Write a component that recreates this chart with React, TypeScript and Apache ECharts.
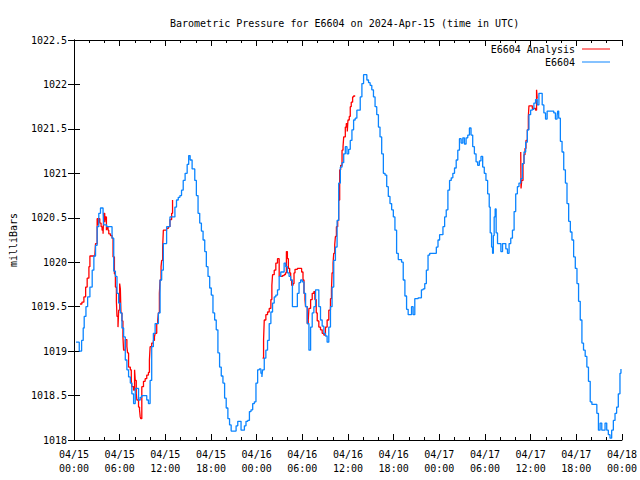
import React, { useEffect, useRef } from "react";
import * as echarts from "echarts";

const TITLE = "Barometric Pressure for E6604 on 2024-Apr-15 (time in UTC)";
const Y_NAME = "milliBars";
const SERIES_ANALYSIS = "E6604 Analysis";
const SERIES_OBS = "E6604";
const xTickLabels = [
  "04/15\n00:00", "04/15\n06:00", "04/15\n12:00", "04/15\n18:00",
  "04/16\n00:00", "04/16\n06:00", "04/16\n12:00", "04/16\n18:00",
  "04/17\n00:00", "04/17\n06:00", "04/17\n12:00", "04/17\n18:00",
  "04/18\n00:00",
];

// hours since 04/15 00:00 UTC
const obsHours = [
  0.26, 0.69, 1.0, 1.21, 1.34, 1.57, 1.79, 2.09, 2.39, 2.61, 2.83, 3.04, 3.26, 3.48, 3.69, 3.82, 3.91, 4.3, 4.79, 5.0,
  5.22, 5.44, 5.65, 5.87, 6.09, 6.3, 6.52, 6.74, 6.95, 7.17, 7.4, 7.6, 7.83, 8.05, 8.26, 8.48, 8.7, 8.91, 9.35, 9.56,
  9.78, 10.0, 10.21, 10.43, 10.66, 10.87, 11.09, 11.31, 11.52, 11.74, 11.96, 12.17, 12.61, 13.04, 13.26, 13.47, 13.7, 13.92, 14.13, 14.35,
  14.6, 14.87, 15.07, 15.26, 15.52, 15.87, 16.08, 16.3, 16.52, 16.74, 16.96, 17.18, 17.39, 17.61, 17.83, 18.04, 18.26, 18.48, 18.69, 18.91,
  19.13, 19.35, 19.57, 19.79, 20.0, 20.22, 20.44, 20.65, 21.09, 21.3, 21.52, 21.74, 21.95, 22.17, 22.39, 22.6, 22.83, 23.05, 23.26, 23.48,
  23.7, 23.91, 24.13, 24.35, 24.56, 24.69, 24.78, 25.0, 25.21, 25.43, 25.65, 25.87, 26.09, 26.31, 26.52, 26.74, 26.96, 27.17, 27.39, 27.61,
  27.82, 28.04, 28.26, 28.47, 28.7, 28.91, 29.13, 29.35, 29.57, 29.78, 30.0, 30.22, 30.43, 30.65, 30.87, 31.09, 31.3, 31.52, 31.74, 31.96,
  32.17, 32.39, 32.61, 32.83, 33.04, 33.26, 33.48, 33.7, 33.91, 34.13, 34.35, 34.57, 34.78, 35.0, 35.22, 35.44, 35.65, 35.87, 36.09, 36.3,
  36.52, 36.74, 36.95, 37.17, 37.39, 37.61, 37.83, 38.05, 38.26, 38.48, 38.7, 38.91, 39.13, 39.35, 39.56, 39.78, 40.0, 40.21, 40.43, 40.65,
  40.87, 41.09, 41.3, 41.52, 41.74, 41.96, 42.17, 42.39, 42.61, 43.04, 43.26, 43.48, 43.7, 43.91, 44.13, 44.35, 44.56, 44.78, 45.22, 45.65,
  45.87, 46.09, 46.3, 46.52, 46.74, 47.39, 47.61, 47.83, 48.04, 48.26, 48.48, 48.7, 48.91, 49.13, 49.35, 49.57, 49.78, 50.0, 50.22, 50.43,
  50.65, 50.87, 51.09, 51.3, 51.52, 51.74, 51.96, 52.17, 52.39, 52.61, 52.83, 53.04, 53.26, 53.48, 53.7, 53.91, 54.13, 54.35, 54.56, 54.69,
  54.87, 55.0, 55.1, 55.21, 55.34, 55.47, 55.65, 55.87, 56.09, 56.31, 56.52, 56.74, 56.96, 57.17, 57.39, 57.61, 57.83, 58.04, 58.26, 58.47,
  58.7, 58.91, 59.13, 59.35, 59.57, 59.78, 60.0, 60.22, 60.43, 60.65, 60.87, 61.09, 61.3, 61.52, 61.74, 61.96, 62.17, 62.83, 63.04, 63.26,
  63.48, 63.56, 63.69, 63.91, 64.13, 64.35, 64.57, 64.78, 65.0, 65.22, 65.43, 65.65, 65.87, 66.09, 66.3, 66.52, 66.74, 66.95, 67.17, 67.39,
  67.6, 67.83, 68.05, 68.48, 68.7, 68.91, 69.13, 69.35, 69.56, 69.78, 70.0, 70.21, 70.43, 70.65, 70.87, 71.09, 71.3, 71.52, 71.74, 71.87,
];
const obsValues = [
  1019.1, 1019.0, 1019.12, 1019.26, 1019.39, 1019.5, 1019.61, 1019.72, 1019.91, 1020.07, 1020.19, 1020.4, 1020.55, 1020.61, 1020.61, 1020.55, 1020.42, 1020.4, 1020.4, 1020.27,
  1019.9, 1019.84, 1019.65, 1019.54, 1019.43, 1019.26, 1019.16, 1018.9, 1018.79, 1018.71, 1018.64, 1018.52, 1018.41, 1018.58, 1018.58, 1018.45, 1018.48, 1018.5, 1018.5, 1018.45,
  1018.41, 1018.67, 1019.05, 1019.2, 1019.31, 1019.31, 1019.43, 1019.8, 1019.91, 1020.21, 1020.21, 1020.4, 1020.51, 1020.51, 1020.62, 1020.7, 1020.73, 1020.75, 1020.81, 1020.92,
  1021.0, 1021.1, 1021.2, 1021.15, 1021.05, 1020.92, 1020.75, 1020.55, 1020.44, 1020.35, 1020.25, 1020.12, 1019.95, 1019.84, 1019.71, 1019.63, 1019.43, 1019.35, 1019.24, 1018.98,
  1018.82, 1018.72, 1018.64, 1018.47, 1018.36, 1018.24, 1018.17, 1018.1, 1018.1, 1018.16, 1018.21, 1018.21, 1018.11, 1018.11, 1018.16, 1018.21, 1018.22, 1018.32, 1018.34, 1018.41,
  1018.43, 1018.64, 1018.79, 1018.8, 1018.75, 1018.71, 1018.79, 1018.92, 1019.01, 1019.12, 1019.31, 1019.44, 1019.54, 1019.61, 1019.63, 1019.69, 1019.84, 1019.89, 1019.89, 1019.99,
  1019.95, 1019.88, 1019.84, 1019.8, 1019.5, 1019.5, 1019.5, 1019.65, 1019.77, 1019.8, 1019.78, 1019.65, 1019.5, 1019.31, 1019.01, 1019.27, 1019.43, 1019.5, 1019.69, 1019.69,
  1019.5, 1019.35, 1019.28, 1019.2, 1019.17, 1019.1, 1019.27, 1019.5, 1019.72, 1020.02, 1020.17, 1020.47, 1020.89, 1021.07, 1021.12, 1021.22, 1021.3, 1021.22, 1021.27, 1021.37,
  1021.49, 1021.6, 1021.62, 1021.71, 1021.71, 1021.86, 1022.01, 1022.11, 1022.11, 1022.05, 1022.02, 1021.99, 1021.94, 1021.86, 1021.75, 1021.66, 1021.52, 1021.41, 1021.22, 1021.0,
  1020.98, 1020.85, 1020.74, 1020.66, 1020.59, 1020.51, 1020.36, 1020.1, 1020.03, 1020.0, 1019.8, 1019.62, 1019.47, 1019.41, 1019.41, 1019.5, 1019.41, 1019.59, 1019.6, 1019.69,
  1019.7, 1019.76, 1019.91, 1020.08, 1020.1, 1020.1, 1020.17, 1020.25, 1020.31, 1020.31, 1020.4, 1020.51, 1020.59, 1020.81, 1020.92, 1020.95, 1021.0, 1021.06, 1021.15, 1021.26,
  1021.39, 1021.34, 1021.4, 1021.33, 1021.4, 1021.43, 1021.51, 1021.43, 1021.3, 1021.22, 1021.13, 1021.09, 1021.14, 1021.19, 1021.07, 1021.0, 1020.92, 1020.77, 1020.62, 1020.33,
  1020.17, 1020.1, 1020.3, 1020.51, 1020.6, 1020.33, 1020.21, 1020.21, 1020.12, 1020.21, 1020.21, 1020.15, 1020.1, 1020.21, 1020.27, 1020.36, 1020.57, 1020.77, 1020.85, 1020.89,
  1020.94, 1021.11, 1021.24, 1021.35, 1021.49, 1021.66, 1021.71, 1021.72, 1021.79, 1021.83, 1021.77, 1021.9, 1021.9, 1021.77, 1021.68, 1021.61, 1021.7, 1021.7, 1021.68, 1021.61,
  1021.65, 1021.7, 1021.62, 1021.36, 1021.24, 1021.04, 1020.89, 1020.66, 1020.46, 1020.34, 1020.25, 1020.06, 1019.93, 1019.76, 1019.56, 1019.35, 1019.09, 1019.01, 1018.94, 1018.82,
  1018.66, 1018.43, 1018.4, 1018.4, 1018.3, 1018.11, 1018.19, 1018.11, 1018.11, 1018.19, 1018.11, 1018.06, 1018.02, 1018.11, 1018.22, 1018.3, 1018.37, 1018.52, 1018.75, 1018.8,
];

// analysis: three separate stretches
const analysisHours1 = [
  0.78, 1.04, 1.3, 1.53, 1.73, 1.96, 2.09, 2.61, 2.74, 2.83, 3.04, 3.17, 3.26, 3.39, 3.56, 3.69, 3.82, 3.91, 4.04, 4.13,
  4.26, 4.35, 4.47, 4.57, 4.79, 5.0, 5.13, 5.31, 5.44, 5.57, 5.65, 5.78, 5.87, 6.0, 6.09, 6.17, 6.3, 6.43, 6.52, 6.74,
  6.95, 7.04, 7.17, 7.4, 7.53, 7.6, 7.83, 7.96, 8.05, 8.18, 8.26, 8.48, 8.61, 8.7, 8.78, 8.91, 9.13, 9.35, 9.56, 9.78,
  9.91, 10.0, 10.21, 10.43, 10.57, 10.66, 10.87, 11.0, 11.09, 11.22, 11.31, 11.44, 11.52, 11.65, 11.74, 11.96, 12.17, 12.39, 12.61, 12.83,
  12.95,
];
const analysisValues1 = [
  1019.53, 1019.55, 1019.61, 1019.72, 1019.82, 1019.95, 1020.07, 1020.07, 1020.08, 1020.21, 1020.49, 1020.42, 1020.49, 1020.44, 1020.4, 1020.36, 1020.32, 1020.55, 1020.45, 1020.51,
  1020.36, 1020.4, 1020.36, 1020.32, 1020.3, 1020.27, 1020.06, 1019.87, 1019.72, 1019.56, 1019.39, 1019.27, 1019.46, 1019.76, 1019.7, 1019.43, 1019.34, 1019.16, 1019.01, 1019.13,
  1019.05, 1018.98, 1018.82, 1018.79, 1018.67, 1018.6, 1018.56, 1018.79, 1018.67, 1018.52, 1018.45, 1018.37, 1018.34, 1018.26, 1018.24, 1018.6, 1018.66, 1018.69, 1018.73, 1018.76,
  1018.9, 1019.05, 1019.09, 1019.12, 1019.16, 1019.2, 1019.31, 1019.35, 1019.43, 1019.65, 1019.8, 1019.95, 1020.02, 1020.17, 1020.36, 1020.36, 1020.38, 1020.4, 1020.48, 1020.55,
  1020.7,
];
const analysisHours2 = [
  24.78, 24.91, 25.0, 25.21, 25.43, 25.65, 25.87, 26.0, 26.09, 26.31, 26.52, 26.74, 26.96, 27.39, 27.61, 27.78, 27.91, 28.04, 28.17, 28.34,
  28.47, 28.6, 28.78, 28.91, 29.04, 29.35, 29.78, 29.91, 30.09, 30.22, 30.35, 30.43, 30.65, 30.78, 30.87, 31.09, 31.3, 31.52, 31.65, 31.83,
  31.96, 32.17, 32.39, 32.61, 32.83, 33.04, 33.26, 33.48, 33.7, 33.83, 33.91, 34.04, 34.13, 34.26, 34.35, 34.48, 34.65, 34.78, 34.91, 35.04,
  35.22, 35.35, 35.44, 35.65, 35.78, 35.91, 36.0, 36.17, 36.3, 36.43, 36.61, 36.74, 36.95,
];
const analysisValues2 = [
  1018.92, 1019.13, 1019.35, 1019.41, 1019.44, 1019.48, 1019.58, 1019.74, 1019.86, 1019.91, 1019.99, 1020.04, 1019.84, 1019.85, 1019.86, 1019.88, 1020.12, 1020.04, 1019.93, 1019.88,
  1019.8, 1019.74, 1019.76, 1019.88, 1019.92, 1019.93, 1019.93, 1019.89, 1019.8, 1019.65, 1019.58, 1019.5, 1019.31, 1019.35, 1019.48, 1019.58, 1019.65, 1019.67, 1019.58, 1019.43,
  1019.34, 1019.27, 1019.24, 1019.2, 1019.18, 1019.27, 1019.35, 1019.46, 1019.59, 1019.69, 1019.88, 1019.99, 1020.1, 1020.2, 1020.29, 1020.4, 1020.47, 1020.7, 1021.04, 1021.09,
  1021.26, 1021.3, 1021.41, 1021.52, 1021.56, 1021.47, 1021.6, 1021.64, 1021.75, 1021.8, 1021.86, 1021.87, 1021.87,
];
const analysisHours3 = [58.7, 58.74, 58.83, 59.0, 59.13, 59.26, 59.39, 59.57, 59.7, 59.78, 60.0, 60.22, 60.43, 60.65, 60.74, 60.78, 60.87];
const analysisValues3 = [1021.24, 1020.83, 1020.92, 1021.11, 1021.21, 1021.28, 1021.37, 1021.49, 1021.64, 1021.76, 1021.76, 1021.73, 1021.73, 1021.71, 1021.71, 1021.94, 1021.84];

const FONT = "'DejaVu Sans Mono', 'Liberation Mono', monospace";
const RED = "#ff0000";
const BLUE = "#0a84ff";

function pairs(xs: number[], ys: number[]) {
  return xs.map((x, i) => [x, ys[i]]);
}

function lineSeries(name: string, color: string, data: number[][]) {
  return {
    name,
    type: "line",
    step: "end",
    symbol: "none",
    lineStyle: { color, width: 1.3 },
    itemStyle: { color },
    data,
  };
}

export default function App() {
  const ref = useRef<HTMLDivElement>(null);
  useEffect(() => {
    if (!ref.current) return;
    const chart = echarts.init(ref.current, undefined, { renderer: "svg" });
    const axisLine = { show: true, lineStyle: { color: "#000", width: 1 } };
    const xCommon = {
      type: "value" as const,
      min: 0,
      max: 72,
      interval: 6,
      axisLine,
      splitLine: { show: false },
      axisTick: { show: true, inside: true, length: 6, lineStyle: { color: "#000" } },
      minorTick: { show: true, splitNumber: 3, length: 3, lineStyle: { color: "#000" } },
    };
    const yCommon = {
      type: "value" as const,
      min: 1018,
      max: 1022.5,
      interval: 0.5,
      axisLine,
      splitLine: { show: false },
      axisTick: { show: true, inside: true, length: 6, lineStyle: { color: "#000" } },
    };
    const legendCommon = {
      right: 30,
      padding: 0,
      align: "right",
      itemWidth: 28,
      itemHeight: 1,
      icon: "rect",
      textStyle: { fontFamily: FONT, fontSize: 10, color: "#000", padding: [0, 2, 0, 0] },
      selectedMode: false,
    };
    chart.setOption({
      animation: false,
      backgroundColor: "#fff",
      title: {
        text: TITLE,
        left: 165,
        top: 13,
        textStyle: { fontFamily: FONT, fontSize: 10, fontWeight: "normal", color: "#000" },
      },
      legend: [
        { ...legendCommon, data: [SERIES_ANALYSIS], top: 44 },
        { ...legendCommon, data: [SERIES_OBS], top: 57 },
      ],
      grid: { left: 70, right: 18, top: 40, bottom: 40, containLabel: false },
      xAxis: [
        {
          ...xCommon,
          position: "bottom",
          axisLabel: {
            fontFamily: FONT,
            fontSize: 10,
            color: "#000",
            lineHeight: 14,
            margin: 7,
            formatter: (v: number) => xTickLabels[Math.round(v / 6)] ?? "",
          },
        },
        { ...xCommon, position: "top", axisLabel: { show: false } },
      ],
      yAxis: [
        {
          ...yCommon,
          position: "left",
          name: Y_NAME,
          nameLocation: "middle",
          nameGap: 56,
          nameRotate: 90,
          nameTextStyle: { fontFamily: FONT, fontSize: 10, color: "#000" },
          axisLabel: {
            fontFamily: FONT,
            fontSize: 10,
            color: "#000",
            margin: 7,
            formatter: (v: number) => String(v),
          },
        },
        { ...yCommon, position: "right", axisLabel: { show: false } },
      ],
      series: [
        lineSeries(SERIES_ANALYSIS, RED, pairs(analysisHours1, analysisValues1)),
        lineSeries(SERIES_ANALYSIS, RED, pairs(analysisHours2, analysisValues2)),
        lineSeries(SERIES_ANALYSIS, RED, pairs(analysisHours3, analysisValues3)),
        lineSeries(SERIES_OBS, BLUE, pairs(obsHours, obsValues)),
      ],
    });
    return () => chart.dispose();
  }, []);
  return (
    <div
      ref={ref}
      style={{ position: "fixed", left: 0, top: 0, width: 640, height: 480, background: "#fff" }}
    />
  );
}
